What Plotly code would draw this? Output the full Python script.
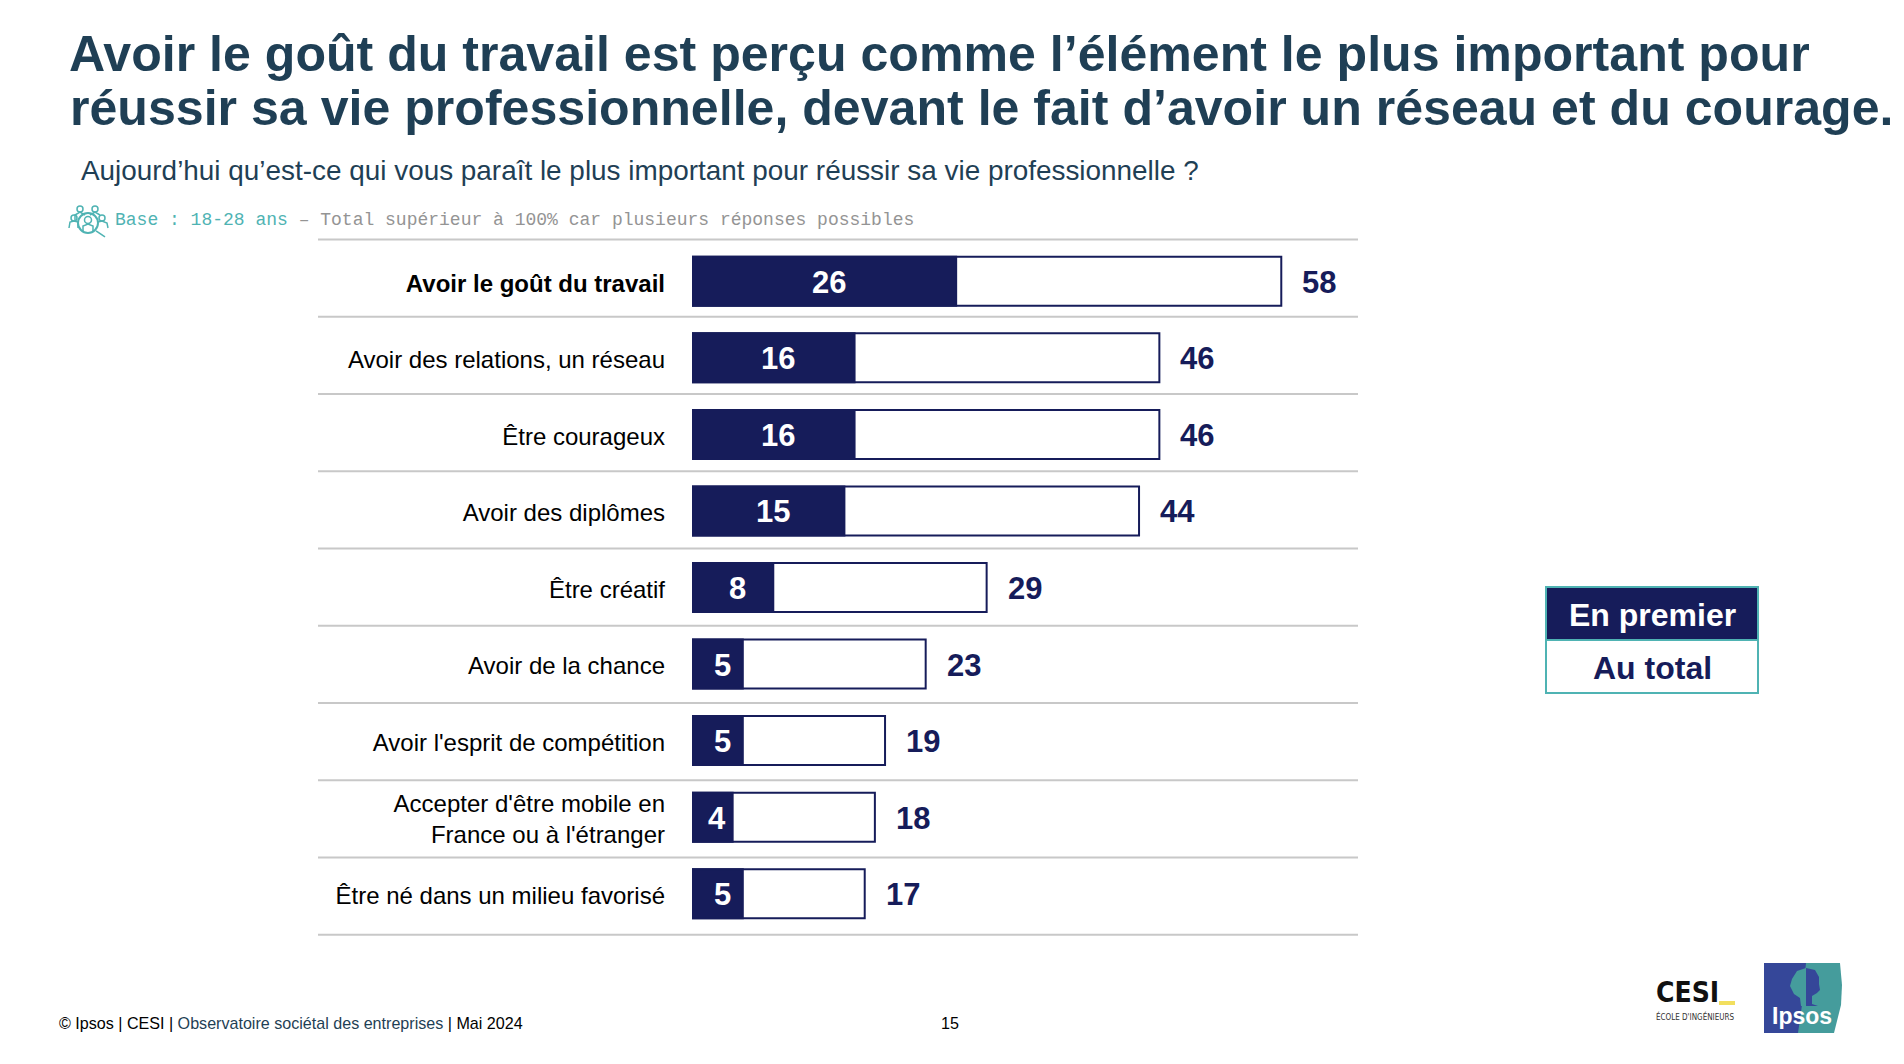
import plotly.graph_objects as go

categories = ["<b>Avoir le goût du travail</b>", "Avoir des relations, un réseau", "Être courageux",
              "Avoir des diplômes", "Être créatif", "Avoir de la chance",
              "Avoir l'esprit de compétition", "Accepter d'être mobile en<br>France ou à l'étranger",
              "Être né dans un milieu favorisé"]
en_premier = [26, 16, 16, 15, 8, 5, 5, 4, 5]
au_total = [58, 46, 46, 44, 29, 23, 19, 18, 17]

NAVY = "#161C5A"; TEAL = "#4FB3B3"; HEAD = "#1F3F55"; GREY = "#C8C8C8"; SANS = "Liberation Sans"
W, H = 1904, 1064
L, R, T, B = 692, 1358, 243, 932

def px(x): return (x - L) / (R - L)
def py(y): return (B - y) / (B - T)
def pt(x, y): return f"{px(x):.5f},{py(y):.5f}"
def path(points, close=True):
    s = "M" + " L".join(pt(*p) for p in points)
    return s + (" Z" if close else "")

fig = go.Figure()
fig.add_bar(name="Au total", y=categories, x=au_total, orientation="h", width=0.64,
            marker=dict(color="white", line=dict(color=NAVY, width=2)))
fig.add_bar(name="En premier", y=categories, x=en_premier, orientation="h", width=0.64,
            marker=dict(color=NAVY, line=dict(color=NAVY, width=2)))

ann = []
for c, a, b in zip(categories, en_premier, au_total):
    ann.append(dict(x=a / 2, y=c, xref="x", yref="y", text=f"<b>{a}</b>", showarrow=False, xshift=5, yshift=-1,
                    font=dict(family=SANS, size=31, color="white")))
    ann.append(dict(x=b, y=c, xref="x", yref="y", text=f"<b>{b}</b>", showarrow=False, xanchor="left", xshift=19, yshift=-1,
                    font=dict(family=SANS, size=31, color=NAVY)))

def text(x, y, s, size, color="black", anchor="left", family=SANS):
    ann.append(dict(x=px(x), y=py(y), xref="paper", yref="paper", text=s, showarrow=False, xanchor=anchor,
                    yanchor="middle", align=anchor, borderpad=0, font=dict(family=family, size=size, color=color)))

text(69, 108, "<b>réussir sa vie professionnelle, devant le fait d’avoir un réseau et du courage.</b>", 50.1, HEAD)
text(80, 170, "Aujourd’hui qu’est-ce qui vous paraît le plus important pour réussir sa vie professionnelle ?", 27.9, HEAD)
text(114, 220, f"<span style='color:{TEAL}'>Base : 18-28 ans</span> – Total supérieur à 100% car plusieurs réponses possibles",
     18, "#949494", family="Liberation Mono")
text(58, 1023, f"© Ipsos | CESI | <span style='color:{HEAD}'>Observatoire sociétal des entreprises</span> | Mai 2024", 16.1)
text(950, 1023, "15", 16.1, anchor="center")
text(1652, 615, "<b>En premier</b>", 32, "white", anchor="center")
text(1652, 668, "<b>Au total</b>", 32, NAVY, anchor="center")
text(1655, 992, "<b>CESI</b>", 28, "#111111", family="DejaVu Sans Condensed")
text(1655, 1016, "ÉCOLE D'INGÉNIEURS", 8, "#333333", family="DejaVu Sans Condensed")
text(1771, 1016, "<b>Ipsos</b>", 23, "white")

shapes = []
for i in range(len(categories) + 1):
    y = py(239.5 + i * 77.25)
    shapes.append(dict(type="line", xref="paper", yref="paper", x0=px(318), x1=1, y0=y, y1=y,
                       line=dict(color=GREY, width=2)))
# legend box
shapes.append(dict(type="rect", xref="paper", yref="paper", x0=px(1546), x1=px(1758), y0=py(587), y1=py(640),
                   fillcolor=NAVY, line=dict(color=TEAL, width=2)))
shapes.append(dict(type="rect", xref="paper", yref="paper", x0=px(1546), x1=px(1758), y0=py(640), y1=py(693),
                   fillcolor="white", line=dict(color=TEAL, width=2)))
# CESI dash
shapes.append(dict(type="rect", xref="paper", yref="paper", x0=px(1719), x1=px(1735), y0=py(1001), y1=py(1005),
                   fillcolor="#F2DF5E", line=dict(width=0)))
# Ipsos logo
shapes.append(dict(type="path", xref="paper", yref="paper", fillcolor="#459C9C", line=dict(width=0),
                   path=path([(1800, 963), (1840, 963), (1842, 985), (1841, 1005), (1834, 1033), (1790, 1033)])))
shapes.append(dict(type="path", xref="paper", yref="paper", fillcolor="#354799", line=dict(width=0),
                   path=path([(1764, 963), (1806, 963), (1802, 1005), (1798, 1033), (1764, 1033)])))
shapes.append(dict(type="path", xref="paper", yref="paper", fillcolor="#354799", line=dict(width=0),
                   path=path([(1806, 968), (1815, 970), (1819, 977), (1819, 984), (1820, 990), (1817, 993), (1812, 996),
                              (1812, 1004), (1818, 1006), (1806, 1006)])))
shapes.append(dict(type="path", xref="paper", yref="paper", fillcolor="#459C9C", line=dict(width=0),
                   path=path([(1806, 968), (1797, 971), (1792, 979), (1790, 986), (1794, 994), (1800, 998),
                              (1801, 1006), (1806, 1006)])))
# audience icon
for cx, cy, r in [(80, 209, 3), (95, 209, 3), (74, 218, 3), (102, 218, 3), (88, 220, 3.5)]:
    shapes.append(dict(type="circle", xref="paper", yref="paper", x0=px(cx - r), x1=px(cx + r),
                       y0=py(cy + r), y1=py(cy - r), line=dict(color=TEAL, width=1.5)))
for pts in [[(75, 220), (75, 215), (80, 212), (85, 215)], [(90, 215), (95, 212), (100, 215)],
            [(69, 228), (70, 222), (74, 221), (78, 222), (78, 228)], [(98, 222), (102, 221), (107, 223), (108, 228)],
            [(83, 231), (83, 226), (88, 224), (93, 226), (93, 231)], [(96, 231), (105, 237)]]:
    shapes.append(dict(type="path", xref="paper", yref="paper", path=path(pts, False), line=dict(color=TEAL, width=1.5)))
shapes.append(dict(type="circle", xref="paper", yref="paper", x0=px(78), x1=px(98), y0=py(233), y1=py(213),
                   line=dict(color=TEAL, width=2)))

fig.update_layout(
    width=W, height=H, barmode="overlay", showlegend=False, plot_bgcolor="white", paper_bgcolor="white",
    margin=dict(l=L, r=W - R, t=T, b=H - B, autoexpand=False),
    title=dict(text="<b>Avoir le goût du travail est perçu comme l’élément le plus important pour</b>",
               x=69 / W, xref="container", xanchor="left", y=1 - 53 / H, yref="container", yanchor="middle",
               font=dict(family=SANS, size=50.1, color=HEAD)),
    xaxis=dict(range=[0, (R - L) / 10.16], visible=False, fixedrange=True),
    yaxis=dict(autorange="reversed", showgrid=False, showline=False, zeroline=False, ticks="", ticklabelstandoff=26,
               ticklabelshift=-2, tickfont=dict(family=SANS, size=24, color="black"), fixedrange=True),
    annotations=ann, shapes=shapes, font=dict(family=SANS),
)
fig.write_html("out.html", post_script="document.body.style.margin='0';", config=dict(displayModeBar=False))
